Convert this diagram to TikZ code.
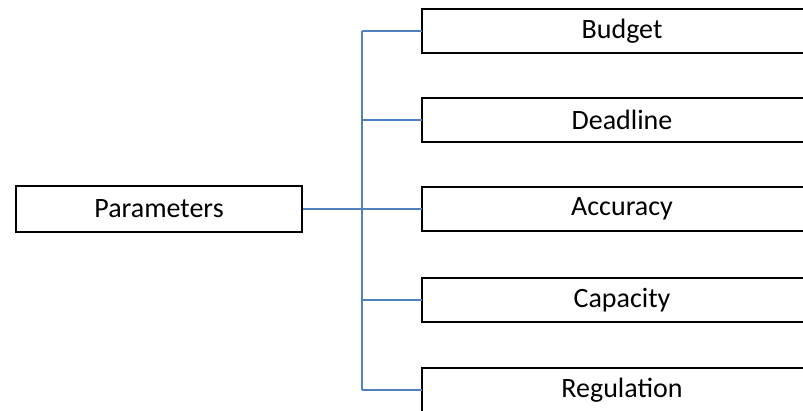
\documentclass[tikz,border=0pt]{standalone}
\usepackage{fontspec}
\setmainfont{Carlito}
\definecolor{linkblue}{RGB}{79,129,189}
\tikzset{
  boxtext/.style={minimum height=44pt, inner sep=0pt, font=\fontsize{28}{33}\selectfont},
  frame/.style={draw=black, line width=2.4pt},
  link/.style={draw=linkblue, line width=1.4pt}
}
\begin{document}
\begin{tikzpicture}[x=1pt,y=-1pt]
        \useasboundingbox (0,0) rectangle (803,410);
        \node [boxtext, frame, minimum width=286pt, minimum height=46pt] (param) at (159,209) {Parameters};
        \coordinate (trunk) at (362,209);
        \foreach \y/\name/\txt in {31/budget/Budget, 120/deadline/Deadline, 209/accuracy/Accuracy, 300/capacity/Capacity, 390/regulation/Regulation}{
          \node [boxtext, minimum width=400pt] (\name) at (622,\y) {\txt};
          \draw [frame] (\name.north east) -- (\name.north west) -- (\name.south west) -- (\name.south east);
          \draw [link] (\name.west) -- (\name.west -| trunk);
        }
        \draw [link] (budget.west -| trunk) -- (regulation.west -| trunk);
        \draw [link, line width=2.2pt] (param.east) -- (trunk);
      \end{tikzpicture}
\end{document}
